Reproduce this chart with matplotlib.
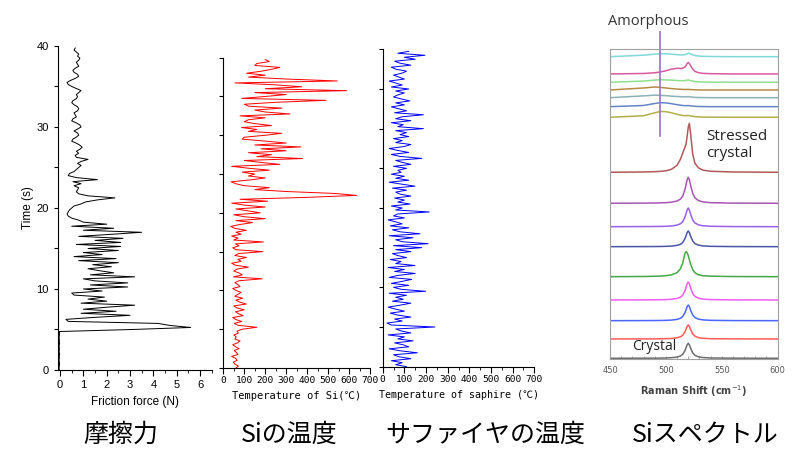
import numpy as np
import matplotlib
matplotlib.use("Agg")
import matplotlib.pyplot as plt
from matplotlib.ticker import MultipleLocator

# ------------------------------------------------------------
# data
# ------------------------------------------------------------

# friction force (N), one sample every 0.25 s from 0 to 39.75 s
friction = [
    -0.03, -0.04, -0.03, -0.02, -0.03, -0.04, -0.03, -0.03, -0.02, -0.04,
    -0.03, -0.03, -0.04, -0.02, -0.03, -0.03, -0.04, -0.03, -0.02, -0.03,
    3.1, 5.6, 4.7, 4.2, 0.35, 0.25, 1.5, 3.0, 0.9, 2.4,
    1.0, 2.0, 3.2, 0.9, 2.0, 1.2, 1.9, 0.6, 0.5, 1.8,
    1.0, 2.9, 1.3, 2.9, 1.5, 1.0, 3.2, 1.3, 2.3, 1.7,
    1.2, 2.2, 1.4, 2.5, 0.8, 2.4, 0.6, 1.8, 1.0, 2.5,
    1.2, 2.6, 0.7, 2.6, 1.5, 2.7, 0.8, 2.2, 3.5, 1.0,
    2.3, 0.5, 2.0, 1.0, 0.8, 0.5, 0.35, 0.3, 0.35, 0.4,
    0.5, 0.6, 0.9, 1.1, 1.6, 2.35, 1.2, 0.8, 0.7, 0.75,
    0.8, 0.6, 0.9, 0.55, 1.6, 0.7, 0.35, 0.4, 0.6, 0.7,
    0.8, 0.9, 0.75, 0.9, 1.2, 0.7, 0.65, 0.8, 0.7, 0.85,
    0.95, 0.85, 0.7, 0.5, 0.55, 0.7, 0.8, 0.75, 0.6, 0.75,
    0.9, 0.85, 0.7, 0.5, 0.55, 0.7, 0.65, 0.6, 0.75, 0.8,
    0.75, 0.6, 0.5, 0.55, 0.7, 0.75, 0.7, 0.8, 0.9, 0.7,
    0.5, 0.35, 0.3, 0.45, 0.65, 0.8, 0.75, 0.6, 0.55, 0.65,
    0.8, 0.75, 0.7, 0.8, 0.85, 0.75, 0.8, 0.7, 0.6, 0.65,
]

# temperature of Si (degC), same time steps
temp_si = [
    60, 72, 55, 48, 66, 58, 40, 70, 62, 52, 75, 58, 45, 68, 80, 55, 62, 50, 72, 65,
    90, 160, 70, 52, 88, 60, 45, 95, 72, 58, 100, 65, 50, 110, 78, 60, 92, 55, 70, 85,
    60, 45, 80, 70, 55, 75, 186, 48, 90, 75, 50, 65, 120, 58, 40, 85, 70, 110, 55, 72,
    189, 60, 45, 75, 58, 191, 50, 70, 40, 85, 60, 110, 55, 35, 80, 140, 60, 200, 100, 50,
    176, 120, 60, 200, 100, 40, 211, 80, 405, 636, 532, 300, 150, 220, 100, 60, 37, 130, 200, 120,
    150, 90, 220, 120, 40, 270, 180, 100, 379, 160, 230, 120, 300, 180, 370, 150, 300, 200, 90, 100,
    200, 278, 120, 160, 87, 230, 150, 100, 120, 200, 80, 318, 200, 150, 280, 120, 100, 250, 490, 88,
    200, 300, 150, 589, 200, 374, 250, 56, 544, 300, 120, 200, 111, 180, 230, 270, 150, 160, 220, 200,
]

# temperature of sapphire (degC), same time steps
temp_sapphire = [
    110, 60, 90, 40, 130, 75, 50, 160, 80, 30, 120, 95, 55, 140, 70, 100, 25, 130, 85, 60,
    241, 40, 20, 90, 55, 130, 70, 35, 100, 60, 25, 80, 130, 45, 95, 60, 110, 30, 198, 85,
    50, 120, 40, 90, 134, 30, 70, 150, 55, 100, 25, 149, 60, 85, 35, 110, 70, 45, 130, 60,
    180, 50, 210, 90, 60, 140, 30, 172, 80, 45, 120, 35, 90, 60, 25, 100, 50, 70, 215, 60,
    90, 40, 126, 70, 100, 55, 130, 80, 60, 110, 45, 149, 90, 30, 120, 60, 100, 40, 85, 70,
    110, 50, 130, 90, 60, 180, 80, 40, 120, 70, 30, 100, 130, 60, 90, 50, 120, 80, 110, 60,
    188, 70, 95, 40, 130, 60, 90, 188, 55, 110, 75, 40, 100, 60, 125, 85, 50, 70, 100, 60,
    120, 40, 90, 60, 30, 100, 75, 50, 90, 110, 60, 40, 130, 80, 55, 150, 100, 195, 70, 120,
]

sample_step = 0.25
time_s = np.arange(len(friction)) * sample_step

# Raman spectra: shift grid and intensity of each spectrum, bottom to top
raman_shift = [450, 480, 490, 495, 500, 505, 510, 513, 515, 517, 518,
               519, 520, 521, 522, 524, 526, 529, 533, 540, 560, 600]

spectra = [
    # crystal (gray)
    [0, 0.1, 0.15, 0.2, 0.3, 0.6, 1.2, 2.3, 3.9, 7.5, 10.4, 13.5, 15, 13.5, 10.4, 5.4, 3, 1.5, 0.75, 0.3, 0.1, 0],
    # red
    [0, 0.1, 0.1, 0.2, 0.3, 0.5, 1.2, 2.2, 3.6, 7, 9.7, 12.6, 14, 12.6, 9.7, 5, 2.8, 1.4, 0.7, 0.3, 0.1, 0],
    # blue
    [0, 0.1, 0.15, 0.2, 0.35, 0.6, 1.3, 2.4, 4.1, 7.9, 10.8, 14.1, 15.7, 14.1, 10.8, 5.7, 3.1, 1.6, 0.8, 0.35, 0.1, 0],
    # magenta
    [0, 0.1, 0.2, 0.25, 0.4, 0.7, 1.5, 2.8, 4.7, 9, 12.4, 16.2, 18, 16.2, 12.4, 6.5, 3.6, 1.8, 0.9, 0.4, 0.1, 0],
    # green
    [0, 0.2, 0.4, 0.6, 1.0, 1.8, 4, 8, 13.5, 23, 25, 24, 21, 17, 13, 7, 4, 2, 1, 0.5, 0.15, 0],
    # navy
    [0, 0.1, 0.15, 0.2, 0.35, 0.6, 1.3, 2.4, 4.1, 7.9, 10.8, 14.1, 15.7, 14.1, 10.8, 5.7, 3.1, 1.6, 0.8, 0.35, 0.1, 0],
    # violet
    [0, 0.1, 0.2, 0.25, 0.4, 0.7, 1.6, 2.9, 4.9, 9.4, 12.9, 16.8, 18.7, 16.8, 12.9, 6.7, 3.7, 1.9, 0.9, 0.4, 0.1, 0],
    # purple
    [0, 0.15, 0.3, 0.4, 0.6, 1.1, 2.3, 4.2, 7, 13.5, 18.5, 23.5, 26, 23.5, 18.5, 10, 5.4, 2.8, 1.4, 0.6, 0.15, 0],
    # stressed crystal (brown-red)
    [0, 0.3, 0.6, 0.9, 1.5, 3, 7, 13, 19, 25, 28, 36, 45, 49, 40, 18, 9, 4.5, 2.2, 1, 0.3, 0],
    # olive
    [0, 1.5, 4.5, 5.8, 5.6, 4.5, 3, 2.2, 1.8, 1.6, 1.6, 1.7, 1.8, 1.6, 1.3, 1.0, 0.7, 0.4, 0.2, 0.1, 0, 0],
    # blue
    [0, 1.2, 3.2, 4, 3.8, 3, 2, 1.5, 1.2, 1, 1, 1, 1.2, 1, 0.8, 0.6, 0.4, 0.2, 0.1, 0, 0, 0],
    # teal gray
    [0, 1.8, 2.5, 2.3, 2, 1.5, 1.2, 1, 0.9, 0.8, 0.8, 0.9, 1.1, 0.9, 0.7, 0.5, 0.3, 0.2, 0.1, 0, 0, 0],
    # brown
    [0, 2, 3, 2.6, 2, 1.4, 0.9, 0.7, 0.6, 0.5, 0.5, 0.5, 0.6, 0.5, 0.4, 0.3, 0.2, 0.1, 0, 0, 0, 0],
    # light green
    [0, 1.2, 2.2, 2.5, 2.4, 2.1, 1.8, 1.6, 1.6, 1.7, 1.8, 2, 2.4, 2, 1.6, 1.2, 0.8, 0.5, 0.3, 0.1, 0, 0],
    # pink
    [0, 0.5, 1.2, 2, 3.2, 4.8, 5.7, 5.5, 5.6, 7, 8.3, 10.5, 11.5, 10.5, 8.5, 4.8, 2.6, 1.3, 0.6, 0.3, 0, 0],
    # cyan
    [0, 1.5, 2.5, 3, 2.9, 2.5, 2, 1.8, 1.8, 2, 2.3, 2.8, 3.5, 3.2, 2.6, 1.8, 1.2, 0.7, 0.4, 0.2, 0, 0],
]
spectrum_offsets = [1.0, 20.3, 38.6, 59.3, 82.6, 112.6, 132.6, 156, 187,
                    242, 252.6, 261.6, 269.3, 277, 285.3, 302.6]
spectrum_colors = ["#6e6e6e", "#ff5a5a", "#4a66ff", "#f05cf0", "#45a845", "#4a55a8",
                   "#9a60e8", "#a855b5", "#b05a5a", "#b3b048", "#6585c8", "#8ab3b8",
                   "#b58a45", "#8ee08e", "#d85a9e", "#80d8d8"]

# ------------------------------------------------------------
# figure
# ------------------------------------------------------------
fig = plt.figure(figsize=(7.95, 4.5), dpi=100)

mono = ["DejaVu Sans Mono", "Noto Sans CJK JP"]
jp = ["Noto Sans CJK JP", "DejaVu Sans"]


def style_time_axis(ax):
    ax.spines["top"].set_visible(False)
    ax.spines["right"].set_visible(False)
    ax.set_ylim(0, 40)
    ax.yaxis.set_major_locator(MultipleLocator(10))
    ax.yaxis.set_minor_locator(MultipleLocator(5))
    ax.tick_params(axis="y", which="both", direction="out", length=3, width=0.8)
    ax.tick_params(axis="x", which="major", direction="out", length=4, width=0.8)
    ax.tick_params(axis="x", which="minor", direction="out", length=2, width=0.6)


# --- friction force ---
ax1 = fig.add_axes([0.0726, 0.1778, 0.1937, 0.72])
ax1.plot(friction, time_s, color="black", lw=0.7)
ax1.set_xlim(-0.1, 6.5)
style_time_axis(ax1)
ax1.xaxis.set_major_locator(MultipleLocator(1))
ax1.xaxis.set_minor_locator(MultipleLocator(0.5))
ax1.tick_params(labelsize=8)
ax1.set_xlabel("Friction force (N)", family="Liberation Sans", fontsize=8.5, labelpad=4)
ax1.set_ylabel("Time (s)", family="Liberation Sans", fontsize=8.5, labelpad=2)
for lab in ax1.get_xticklabels() + ax1.get_yticklabels():
    lab.set_family("Liberation Sans")

# --- Si temperature ---
ax2 = fig.add_axes([0.2809, 0.1822, 0.1845, 0.6896])
ax2.plot(temp_si, time_s, color="#ff0000", lw=0.7)
ax2.set_xlim(0, 700)
style_time_axis(ax2)
ax2.yaxis.set_major_locator(MultipleLocator(5))
ax2.set_yticklabels([])
ax2.xaxis.set_major_locator(MultipleLocator(100))
ax2.xaxis.set_minor_locator(MultipleLocator(50))
ax2.tick_params(axis="x", labelsize=6.8, pad=2)
for lab in ax2.get_xticklabels():
    lab.set_family(mono)
ax2.set_xlabel("Temperature of Si(℃)", family=mono, fontsize=7.5, labelpad=4)

# --- sapphire temperature ---
ax3 = fig.add_axes([0.4814, 0.1852, 0.1907, 0.7052])
ax3.plot(temp_sapphire, time_s, color="#0000ff", lw=0.7)
ax3.set_xlim(0, 700)
style_time_axis(ax3)
ax3.yaxis.set_major_locator(MultipleLocator(5))
ax3.set_yticklabels([])
ax3.xaxis.set_major_locator(MultipleLocator(100))
ax3.xaxis.set_minor_locator(MultipleLocator(50))
ax3.tick_params(axis="x", labelsize=6.8, pad=2)
for lab in ax3.get_xticklabels():
    lab.set_family(mono)
ax3.set_xlabel("Temperature of saphire (℃)", family=mono, fontsize=7.2, labelpad=4)

# --- Raman spectra ---
ax4 = fig.add_axes([0.7673, 0.2016, 0.2109, 0.6889])
for inten, off, col in zip(spectra, spectrum_offsets, spectrum_colors):
    ax4.plot(raman_shift, np.array(inten) + off, color=col, lw=1.1)
ax4.set_xlim(450, 600)
ax4.set_ylim(0, 310)
ax4.set_yticks([])
for sp in ax4.spines.values():
    sp.set_color("#a0a0a0")
    sp.set_linewidth(0.8)
ax4.xaxis.set_major_locator(MultipleLocator(50))
ax4.xaxis.set_minor_locator(MultipleLocator(10))
ax4.tick_params(axis="x", which="both", direction="in", length=2, color="#a0a0a0",
                labelsize=6, labelcolor="#555555", pad=5)
ax4.set_xlabel("Raman Shift (cm$^{-1}$)", fontsize=7, color="#444444",
               family="DejaVu Sans", fontweight="bold", labelpad=6)

ax4.plot([495, 495], [223, 327], color="#9b72c8", lw=1.2, clip_on=False)
ax4.text(484, 338, "Amorphous", ha="center", va="center", fontsize=10.5,
         family="Open Sans", color="#333333", clip_on=False)
ax4.text(536, 214, "Stressed\ncrystal", ha="left", va="center", fontsize=11,
         family="Open Sans", color="#222222", linespacing=1.2)
ax4.text(470, 12.5, "Crystal", ha="left", va="center", fontsize=10,
         family="Open Sans", color="#222222")

# --- Japanese captions ---
for label, xc in [("摩擦力", 121), ("Siの温度", 289),
                  ("サファイヤの温度", 485), ("Siスペクトル", 705)]:
    fig.text(xc / 795, 1 - 435 / 450, label, ha="center", va="center",
             fontsize=18, family=jp, color="black")

fig.savefig("out.png", dpi=100)
